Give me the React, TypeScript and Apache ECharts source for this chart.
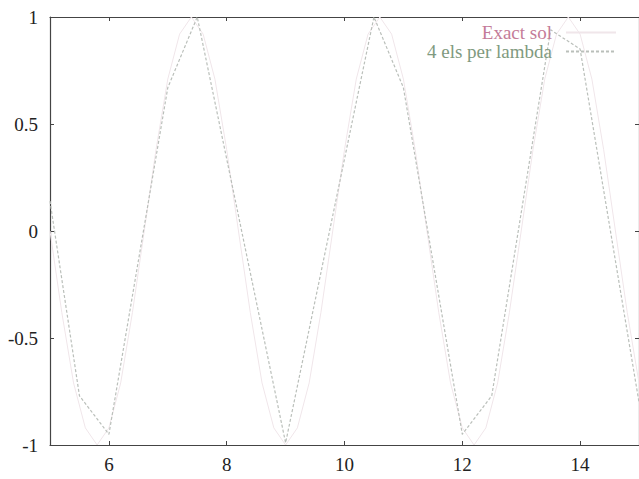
import React, { useEffect, useRef } from "react";
import * as echarts from "echarts";

// Axis ticks
const xTickValues = [6, 8, 10, 12, 14];
const yTickValues = [-1, -0.5, 0, 0.5, 1];

// Exact solution, sampled every 0.2
const exactX = [
  5.0, 5.2, 5.4, 5.6, 5.8, 6.0, 6.2, 6.4, 6.6, 6.8,
  7.0, 7.2, 7.4, 7.6, 7.8, 8.0, 8.2, 8.4, 8.6, 8.8,
  9.0, 9.2, 9.4, 9.6, 9.8, 10.0, 10.2, 10.4, 10.6, 10.8,
  11.0, 11.2, 11.4, 11.6, 11.8, 12.0, 12.2, 12.4, 12.6, 12.8,
  13.0, 13.2, 13.4, 13.6, 13.8, 14.0, 14.2, 14.4, 14.6, 14.8, 15.0,
];
const exactY = [
  0.0, -0.38, -0.71, -0.92, -1.0, -0.92, -0.71, -0.38, 0.0, 0.38,
  0.71, 0.92, 1.0, 0.92, 0.71, 0.38, 0.0, -0.38, -0.71, -0.92,
  -1.0, -0.92, -0.71, -0.38, 0.0, 0.38, 0.71, 0.92, 1.0, 0.92,
  0.71, 0.38, 0.0, -0.38, -0.71, -0.92, -1.0, -0.92, -0.71, -0.38,
  0.0, 0.38, 0.71, 0.92, 1.0, 0.92, 0.71, 0.38, 0.0, -0.38, -0.71,
];

// Finite element nodal solution, 4 elements per wavelength
const feX = [5.0, 5.5, 6.0, 7.0, 7.5, 9.0, 10.5, 11.0, 12.0, 12.5, 13.5, 14.0, 15.0];
const feY = [0.14, -0.77, -0.95, 0.67, 1.0, -0.99, 1.0, 0.67, -0.95, -0.77, 0.94, 0.85, -0.8];

const seriesNames = ["Exact sol", "4 els per lambda"];

const FONT = "serif";
const FONT_SIZE = 19;
const FRAME = "#444444";

export default function App() {
  const ref = useRef<HTMLDivElement>(null);

  useEffect(() => {
    if (!ref.current) return;
    const chart = echarts.init(ref.current, undefined, { renderer: "svg" });

    const tickCommon = {
      show: true,
      inside: true,
      length: 4,
      lineStyle: { color: FRAME, width: 1 },
    };
    const lineCommon = {
      show: true,
      onZero: false,
      lineStyle: { color: FRAME, width: 1.2 },
    };

    chart.setOption({
      animation: false,
      backgroundColor: "#ffffff",
      textStyle: { fontFamily: FONT },
      grid: {
        left: 50,
        right: -1,
        top: 17,
        bottom: 34,
        show: false,
      },
      legend: {
        orient: "vertical",
        right: 17,
        top: 18,
        align: "right",
        itemWidth: 50,
        itemHeight: 14,
        itemGap: 0,
        itemStyle: { opacity: 0 },
        textStyle: { fontFamily: FONT, fontSize: FONT_SIZE, padding: [0, 9, 0, 0] },
        data: [
          { name: seriesNames[0], textStyle: { color: "#c47c98" } },
          { name: seriesNames[1], textStyle: { color: "#7f9a80" } },
        ],
      },
      xAxis: [
        {
          type: "value",
          min: 5,
          max: 15,
          position: "bottom",
          axisLine: lineCommon,
          axisTick: { ...tickCommon, customValues: xTickValues },
          axisLabel: {
            customValues: xTickValues,
            margin: 10,
            color: "#222222",
            fontFamily: FONT,
            fontSize: FONT_SIZE,
          },
          splitLine: { show: false },
        },
        {
          type: "value",
          min: 5,
          max: 15,
          position: "top",
          axisLine: lineCommon,
          axisTick: { ...tickCommon, customValues: xTickValues },
          axisLabel: { show: false },
          splitLine: { show: false },
        },
      ],
      yAxis: [
        {
          type: "value",
          min: -1,
          max: 1,
          interval: 0.5,
          position: "left",
          axisLine: lineCommon,
          axisTick: { ...tickCommon, customValues: yTickValues },
          axisLabel: {
            customValues: yTickValues,
            margin: 12,
            color: "#222222",
            fontFamily: FONT,
            fontSize: FONT_SIZE,
          },
          splitLine: { show: false },
        },
        {
          type: "value",
          min: -1,
          max: 1,
          interval: 0.5,
          position: "right",
          axisLine: lineCommon,
          axisTick: { ...tickCommon, customValues: yTickValues },
          axisLabel: { show: false },
          splitLine: { show: false },
        },
      ],
      series: [
        {
          name: seriesNames[0],
          type: "line",
          symbol: "none",
          xAxisIndex: 0,
          yAxisIndex: 0,
          data: exactX.map((x, i) => [x, exactY[i]]),
          lineStyle: { color: "#f0e6ea", width: 1 },
          itemStyle: { color: "#f0e6ea" },
          z: 2,
        },
        {
          name: seriesNames[1],
          type: "line",
          symbol: "none",
          xAxisIndex: 0,
          yAxisIndex: 0,
          data: feX.map((x, i) => [x, feY[i]]),
          lineStyle: { color: "#babfba", width: 1.2, type: [3, 2] },
          itemStyle: { color: "#babfba" },
          z: 3,
        },
      ],
    });

    return () => chart.dispose();
  }, []);

  return (
    <div
      ref={ref}
      style={{ position: "fixed", left: 0, top: 0, width: 639, height: 479, background: "#fff" }}
    />
  );
}
